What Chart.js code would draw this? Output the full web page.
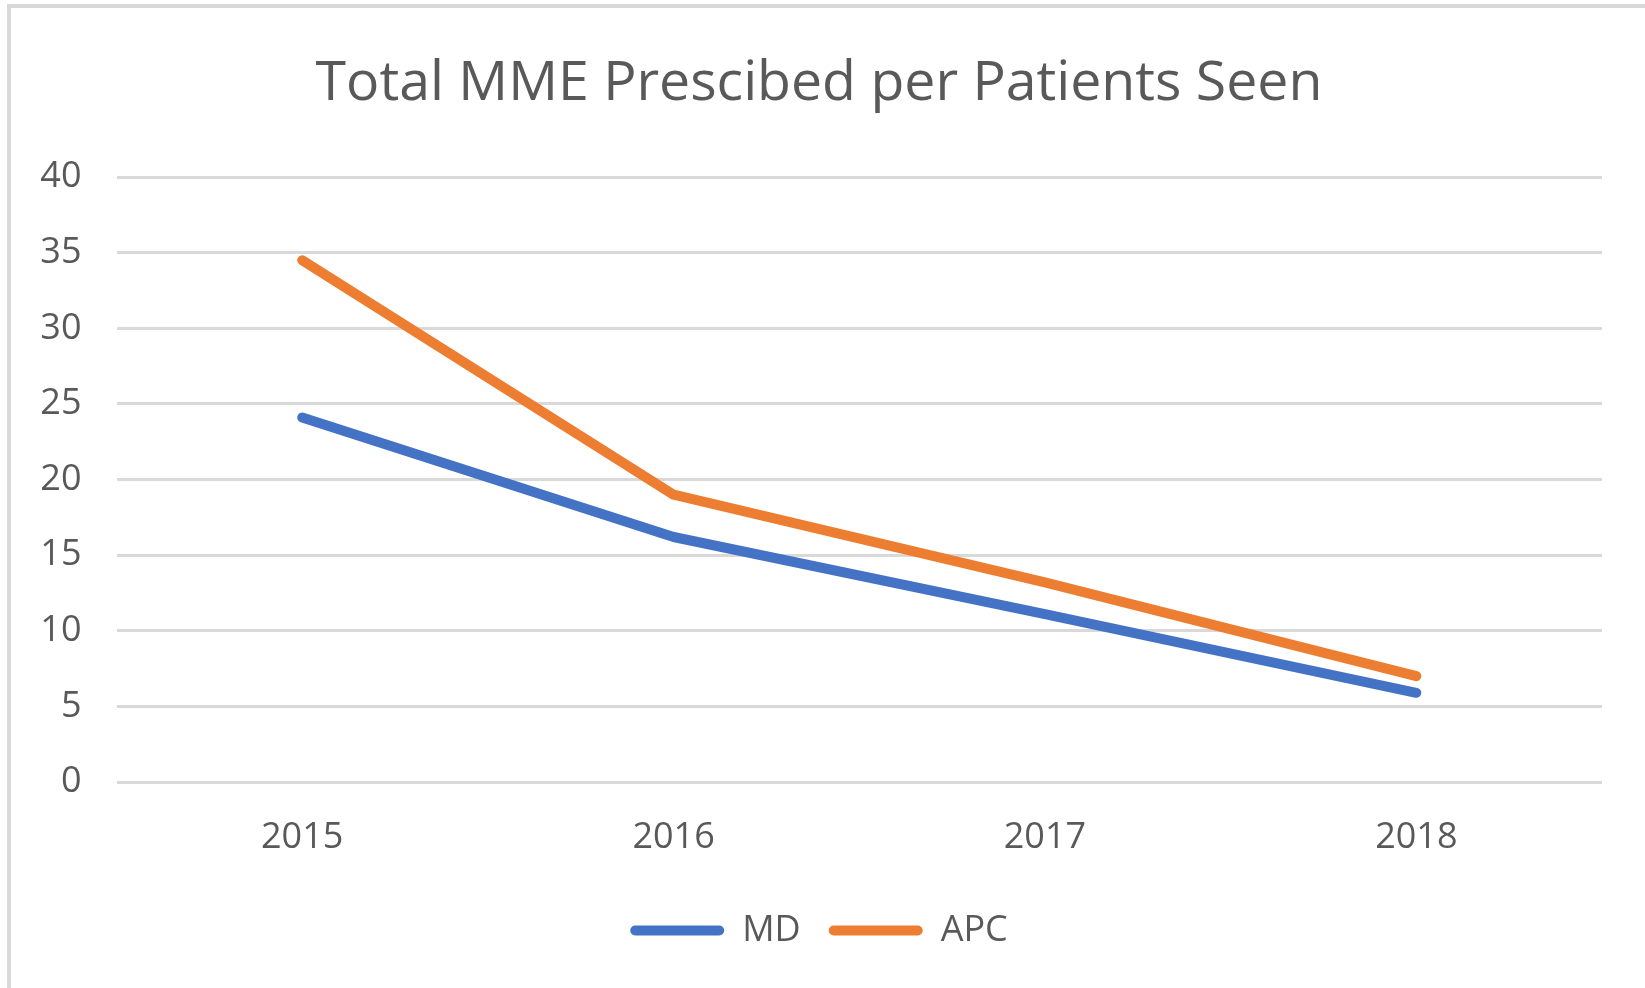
<!DOCTYPE html>
<html>
<head>
<meta charset="UTF-8">
<title>Total MME Prescibed per Patients Seen</title>
<script src="https://cdn.jsdelivr.net/npm/chart.js"></script>
<style>
html,body{margin:0;padding:0;background:#fff;overflow:hidden;}
#frame{position:absolute;left:7px;top:4px;width:2000px;height:2000px;border-top:4px solid #d9d9d9;border-left:4px solid #d9d9d9;}
#chart{position:absolute;left:0;top:0;}
</style>
</head>
<body>
<div id="frame"></div>
<canvas id="chart" width="1645" height="988"></canvas>
<script>
// data
const years = ['2015','2016','2017','2018'];
const mdValues = [24.1, 16.2, 11.1, 5.9];
const apcValues = [34.5, 19.0, 13.2, 7.0];
const yTicks = [0,5,10,15,20,25,30,35,40];

const BLUE = '#4472C4';
const ORANGE = '#ED7D31';
const TEXT = '#595959';
const GRID = '#d9d9d9';
const FONT = "'Open Sans', sans-serif";

function lineSet(label, data, color){
    return {
        label: label,
        data: data,
        borderColor: color,
        backgroundColor: color,
        borderWidth: 10,
        borderCapStyle: 'round',
        borderJoinStyle: 'round',
        pointRadius: 0,
        pointHoverRadius: 0,
        tension: 0
    };
}

const ctx = document.getElementById('chart').getContext('2d');
new Chart(ctx, {
    type: 'line',
    data: {
        labels: years,
        datasets: [lineSet('MD', mdValues, BLUE), lineSet('APC', apcValues, ORANGE)]
    },
    options: {
        responsive: false,
        animation: false,
        devicePixelRatio: 1,
        layout: {padding: {left: 36, right: 43, top: 0, bottom: 29.5}},
        plugins: {
            tooltip: {enabled: false},
            title: {
                display: true,
                text: 'Total MME Prescibed per Patients Seen',
                color: TEXT,
                font: {family: FONT, size: 55.4, weight: 'normal'},
                padding: {top: 51, bottom: 59.6}
            },
            legend: {
                position: 'bottom',
                labels: {
                    color: TEXT,
                    font: {family: FONT, size: 36},
                    boxWidth: 94,
                    boxHeight: 10,
                    padding: 28,
                    useBorderRadius: true,
                    borderRadius: 5,
                    generateLabels: chart => {
                        const items = Chart.defaults.plugins.legend.labels.generateLabels(chart);
                        items.forEach(it => { it.lineWidth = 0; });
                        return items;
                    }
                }
            }
        },
        scales: {
            x: {
                type: 'category',
                offset: true,
                grid: {display: false, drawTicks: false},
                border: {display: false},
                ticks: {color: TEXT, font: {family: FONT, size: 36}, padding: 34.2, maxRotation: 0},
                afterFit: s => { s.height -= 9.1; }
            },
            y: {
                min: 0,
                max: 40,
                afterBuildTicks: s => { s.ticks = yTicks.map(v => ({value: v})); },
                grid: {color: GRID, lineWidth: 3, drawTicks: false},
                border: {display: false},
                ticks: {color: TEXT, font: {family: FONT, size: 36}, padding: 35},
                afterFit: s => { s.width = 80.5; }
            }
        }
    }
});
</script>
</body>
</html>
